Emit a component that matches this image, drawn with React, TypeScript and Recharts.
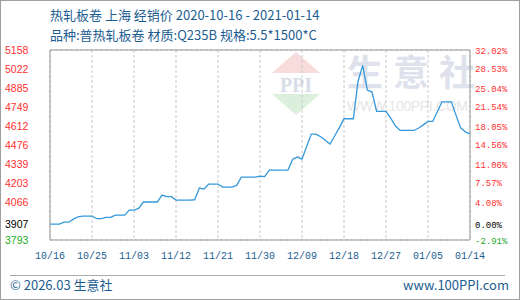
import React from 'react';
import { LineChart, Line, XAxis, YAxis, CartesianGrid, ReferenceArea } from 'recharts';

// Daily price (元/吨), 2020-10-16 .. 2021-01-14
const prices = [
  3907, 3907, 3907, 3921, 3921, 3943, 3960, 3965, 3965, 3965,
  3946, 3946, 3955, 3955, 3972, 3972, 3972, 4008, 4008, 4020,
  4066, 4066, 4066, 4066, 4116, 4104, 4104, 4080, 4080, 4080,
  4080, 4082, 4166, 4159, 4195, 4195, 4195, 4173, 4173, 4173,
  4185, 4245, 4245, 4245, 4245, 4252, 4248, 4295, 4295, 4295,
  4295, 4295, 4374, 4389, 4374, 4465, 4554, 4554, 4535, 4510,
  4483, 4540, 4600, 4664, 4664, 4664, 4932, 5048, 4870, 4856,
  4717, 4717, 4717, 4668, 4614, 4580, 4580, 4580, 4580, 4598,
  4620, 4645, 4645, 4715, 4786, 4786, 4786, 4690, 4598, 4570,
  4556,
];

const xTicks = [0, 9, 18, 27, 36, 45, 54, 63, 72, 81, 90];
const xTickLabels = ['10/16', '10/25', '11/03', '11/12', '11/21', '11/30', '12/09', '12/18', '12/27', '01/05', '01/14'];

const leftTicks = [3793, 3907, 4066, 4203, 4339, 4476, 4612, 4749, 4885, 5022, 5158];
const leftTickLabels = ['3793', '3907', '4066', '4203', '4339', '4476', '4612', '4749', '4885', '5022', '5158'];
const rightTickLabels = ['-2.91%', '0.00%', '4.08%', '7.57%', '11.06%', '14.56%', '18.05%', '21.54%', '25.04%', '28.53%', '32.02%'];
const gridTicks = [3793, 3929.5, 4066, 4202.5, 4339, 4475.5, 4612, 4748.5, 4885, 5021.5, 5158];

const data = prices.map((p, i) => ({ d: i, price: p }));

const BLUE_TEXT = '#1c5d91';
const RED = '#ff3030';
const GREEN = '#2aaa2a';

const tickColor = (i: number) => (i === 0 ? GREEN : i === 1 ? '#000' : RED);

const LeftTick = (props: any) => {
  const { y, payload } = props;
  const i = leftTicks.indexOf(payload.value);
  if (i < 0) return null;
  return (
    <text x={5} y={y} dy={4} fill={tickColor(i)} fontSize={10.5} fontFamily="Liberation Sans, Arial, sans-serif" textAnchor="start">
      {leftTickLabels[i]}
    </text>
  );
};

const RightTick = (props: any) => {
  const { y, payload } = props;
  const i = leftTicks.indexOf(payload.value);
  if (i < 0) return null;
  return (
    <text x={475} y={y} dy={3.5} fill={tickColor(i)} fontSize={9} fontFamily="Liberation Mono, DejaVu Sans Mono, monospace" textAnchor="start">
      {rightTickLabels[i]}
    </text>
  );
};

const Overlay = () => (
  <svg width={520} height={300} style={{ position: 'absolute', left: 0, top: 0 }}>
    <rect x={0.5} y={0.5} width={519} height={299} fill="#fff" stroke="#a0a0a0" />
    <text x={50} y={20} fontSize={13} fill={BLUE_TEXT} fontFamily="Noto Sans CJK SC, sans-serif">
      热轧板卷 上海 经销价 2020-10-16 - 2021-01-14
    </text>
    <text x={50} y={40} fontSize={13} fill={BLUE_TEXT} fontFamily="Noto Sans CJK SC, sans-serif">
      品种:普热轧板卷 材质:Q235B 规格:5.5*1500*C
    </text>
    {/* watermark */}
    <polygon points="296,52 272,73 320,73" fill="#f8dcdc" />
    <text x={296} y={92} fontSize={20} fill="#d8dde8" textAnchor="middle" fontFamily="Liberation Serif, serif" fontWeight="bold">PPI</text>
    <polygon points="272,94 320,94 296,115" fill="#dcefdc" />
    <text x={347} y={86} fontSize={36} fill="#dfe2ec" fontFamily="Noto Sans CJK SC, sans-serif" fontWeight="bold" letterSpacing={10}>生意社</text>
    <text x={347} y={111} fontSize={14} fill="#e6e6e6" fontFamily="Liberation Sans, sans-serif" textLength={121}>WWW.100PPI.COM</text>
    {/* footer */}
    <line x1={10} y1={275.5} x2={505} y2={275.5} stroke="#aaa" />
    <text x={10} y={290} fontSize={13} fill={BLUE_TEXT} fontFamily="Noto Sans CJK SC, sans-serif">© 2026.03 生意社</text>
    <text x={509} y={290} fontSize={13} fill={BLUE_TEXT} textAnchor="end" fontFamily="Noto Sans CJK SC, sans-serif">www.100PPI.com</text>
  </svg>
);

export default function App() {
  return (
    <div style={{ position: 'absolute', left: 0, top: 0, width: 520, height: 300 }}>
      <Overlay />
      <div style={{ position: 'absolute', left: 0, top: 0 }}>
        <LineChart width={520} height={300} data={data} margin={{ top: 50, right: 0, bottom: 30, left: 0 }}>
          <CartesianGrid yAxisId="grid" stroke="#c8c8c8" strokeDasharray="3 2" verticalPoints={undefined} />
          <XAxis
            type="number"
            dataKey="d"
            domain={[0, 90]}
            ticks={xTicks}
            tickFormatter={(v: number) => xTickLabels[xTicks.indexOf(v)]}
            tick={{ fill: BLUE_TEXT, fontSize: 10, fontFamily: 'Liberation Mono, DejaVu Sans Mono, monospace' }}
            tickLine={false}
            axisLine={false}
            tickMargin={6}
            height={30}
            interval={0}
          />
          <YAxis yAxisId="grid" hide domain={[3793, 5158]} ticks={gridTicks} />
          <YAxis
            yAxisId="left"
            orientation="left"
            width={50}
            domain={[3793, 5158]}
            ticks={leftTicks}
            tick={<LeftTick />}
            tickLine={false}
            axisLine={false}
            interval={0}
            allowDataOverflow
          />
          <YAxis
            yAxisId="right"
            orientation="right"
            width={50}
            domain={[3793, 5158]}
            ticks={leftTicks}
            tick={<RightTick />}
            tickLine={false}
            axisLine={false}
            interval={0}
            allowDataOverflow
          />
          <ReferenceArea yAxisId="left" x1={0} x2={90} y1={3793} y2={5158} fill="none" stroke="#999" strokeWidth={1} />
          <Line yAxisId="left" type="linear" dataKey="price" stroke="#3498db" strokeWidth={1.3} dot={false} isAnimationActive={false} />
        </LineChart>
      </div>
    </div>
  );
}
